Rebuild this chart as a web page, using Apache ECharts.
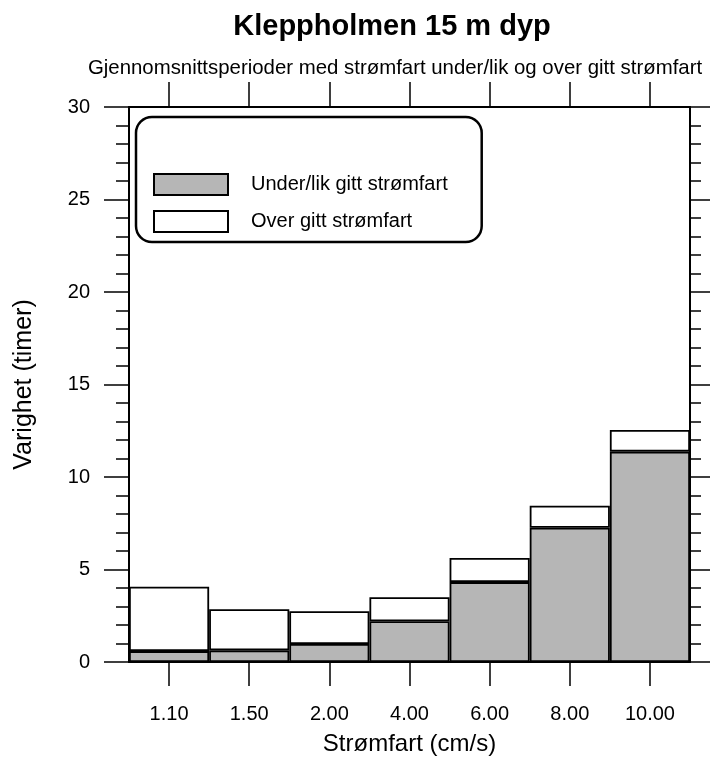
<!DOCTYPE html>
<html>
<head>
<meta charset="utf-8">
<script src="https://cdn.jsdelivr.net/npm/echarts@6/dist/echarts.min.js"></script>
<style>
html,body{margin:0;padding:0;background:#fff;}
#chart{width:711px;height:757px;}
</style>
</head>
<body>
<div id="chart"></div>
<script>
const categories = ['1.10', '1.50', '2.00', '4.00', '6.00', '8.00', '10.00'];
const underValues = [0.59, 0.63, 0.97, 2.2, 4.32, 7.26, 11.37];
const overValues = [3.48, 2.22, 1.77, 1.3, 1.3, 1.19, 1.17];
const yTicks = { min: 0, max: 30, interval: 5 };
const titleText = 'Kleppholmen 15 m dyp';
const subtitleText = 'Gjennomsnittsperioder med strømfart under/lik og over gitt strømfart';
const seriesNames = ['Under/lik gitt strømfart', 'Over gitt strømfart'];

const FONT = 'Liberation Sans, Arial, Helvetica, sans-serif';
const chart = echarts.init(document.getElementById('chart'), null, { renderer: 'canvas' });

const mkLine = () => ({ show: true, onZero: false, lineStyle: { color: '#000', width: 2 } });

chart.setOption({
  backgroundColor: '#fff',
  animation: false,
  textStyle: { fontFamily: FONT, color: '#000' },
  graphic: [
    { type: 'text', x: 392, y: 27, style: { text: titleText, fontSize: 29, fontWeight: 'bold', fontFamily: FONT, fill: '#000', textAlign: 'center', textVerticalAlign: 'middle' } },
    { type: 'text', x: 395, y: 68, style: { text: subtitleText, fontSize: 20.4, fontFamily: FONT, fill: '#000', textAlign: 'center', textVerticalAlign: 'middle' } }
  ],
  legend: {
    orient: 'vertical',
    left: 136, top: 117,
    itemWidth: 74, itemHeight: 21, itemGap: 14,
    padding: [56, 34, 9, 17],
    borderColor: '#000', borderWidth: 2.5, borderRadius: 16,
    icon: 'rect',
    textStyle: { fontSize: 20, color: '#000', fontFamily: FONT, padding: [0, 0, 0, 18] },
    data: seriesNames
  },
  grid: { left: 129, right: 21, top: 107, bottom: 95, containLabel: false, outerBoundsMode: 'none' },
  xAxis: [
    {
      type: 'category', data: categories, position: 'bottom',
      axisLine: mkLine(),
      axisTick: { show: true, interval: 0, alignWithLabel: true, length: 24, lineStyle: { color: '#000', width: 1.5 } },
      axisLabel: { color: '#000', fontSize: 20, margin: 42, interval: 0, fontFamily: FONT },
      name: 'Strømfart (cm/s)', nameLocation: 'middle', nameGap: 70,
      nameTextStyle: { fontSize: 24, color: '#000', fontFamily: FONT },
      splitLine: { show: false }
    },
    {
      type: 'category', data: categories, position: 'top',
      axisLine: mkLine(),
      axisTick: { show: true, interval: 0, alignWithLabel: true, length: 25, lineStyle: { color: '#000', width: 1.5 } },
      axisLabel: { show: false, interval: 0 },
      splitLine: { show: false }
    }
  ],
  yAxis: [
    {
      type: 'value', position: 'left', min: yTicks.min, max: yTicks.max, interval: yTicks.interval,
      axisLine: mkLine(),
      axisTick: { show: true, length: 25, lineStyle: { color: '#000', width: 1.5 } },
      minorTick: { show: true, splitNumber: 5, length: 13, lineStyle: { color: '#000', width: 1.5 } },
      axisLabel: { color: '#000', fontSize: 20, margin: 39, fontFamily: FONT },
      name: 'Varighet (timer)', nameLocation: 'middle', nameGap: 92,
      nameTextStyle: { fontSize: 25, color: '#000', fontFamily: FONT },
      splitLine: { show: false }, minorSplitLine: { show: false }
    },
    {
      type: 'value', position: 'right', min: yTicks.min, max: yTicks.max, interval: yTicks.interval,
      axisLine: mkLine(),
      axisTick: { show: true, length: 20, lineStyle: { color: '#000', width: 1.5 } },
      minorTick: { show: true, splitNumber: 5, length: 11, lineStyle: { color: '#000', width: 1.5 } },
      axisLabel: { show: false },
      splitLine: { show: false }, minorSplitLine: { show: false }
    }
  ],
  series: [
    {
      name: seriesNames[0], type: 'bar', stack: 'total', data: underValues,
      barCategoryGap: '0%',
      itemStyle: { color: '#b6b6b6', borderColor: '#000', borderWidth: 1.8 }
    },
    {
      name: seriesNames[1], type: 'bar', stack: 'total', data: overValues,
      barCategoryGap: '0%',
      itemStyle: { color: '#fff', borderColor: '#000', borderWidth: 1.8 }
    }
  ]
});
</script>
</body>
</html>
